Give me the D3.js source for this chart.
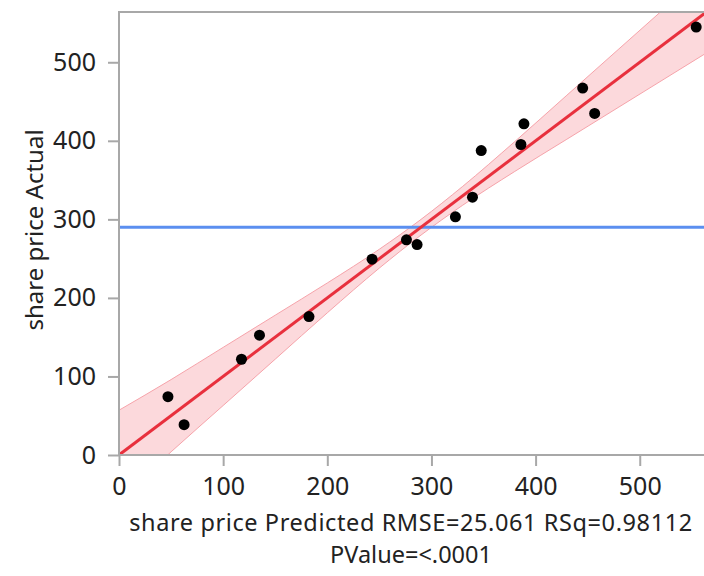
<!DOCTYPE html>
<html>
<head>
<meta charset="utf-8">
<script src="https://cdn.jsdelivr.net/npm/d3@7"></script>
<style>
  html, body { margin: 0; padding: 0; background: #fff; }
  svg { display: block; }
  text { font-family: "Noto Sans", "Open Sans", sans-serif; fill: #222; }
</style>
</head>
<body>
<svg id="chart" width="704" height="576"></svg>
<script>
// ---- data ----
const predicted = [47, 62.5, 117.6, 134.9, 182.4, 243, 276, 286.2, 323, 339.4, 347.8, 385.9, 388.8, 445.2, 456.7, 554.2];
const actual    = [74.3, 38.6, 121.9, 152.5, 176.2, 249.3, 273.9, 267.9, 303.2, 328.3, 387.6, 395.3, 421.7, 467.1, 434.8, 544.8];
const fitX = [0, 600];
const fitY = [0, 600];
const bandX     = [0, 50, 100, 150, 200, 250, 290, 330, 380, 430, 480, 530, 580];
const bandUpper = [57, 96, 137, 178, 219, 262, 300, 342, 399, 458, 517, 576, 635];
const bandLower = [-57, 4, 63, 122, 181, 238, 280, 318, 361, 402, 443, 484, 525];
const xTicks = [0, 100, 200, 300, 400, 500];
const yTicks = [0, 100, 200, 300, 400, 500];
const xTitle1 = "share price Predicted RMSE=25.061 RSq=0.98112";
const xTitle2 = "PValue=<.0001";
const yTitle = "share price Actual";

// ---- layout ----
const L = 119, T = 12, B = 455, R = 706.4;
const svg = d3.select("#chart");
const x = d3.scaleLinear().domain([0, 564]).range([L, R]);
const y = d3.scaleLinear().domain([0, 564]).range([B, T]);

svg.append("defs").append("clipPath").attr("id", "plot")
  .append("rect").attr("x", L).attr("y", T).attr("width", R - L).attr("height", B - T);

const g = svg.append("g").attr("clip-path", "url(#plot)");

const band = bandX.map((v, i) => ({x: v, lo: bandLower[i], hi: bandUpper[i]}));
g.append("path").datum(band)
  .attr("fill", "#fcd9dc")
  .attr("d", d3.area().x(d => x(d.x)).y0(d => y(d.lo)).y1(d => y(d.hi)).curve(d3.curveMonotoneX));
["hi", "lo"].forEach(k => {
  g.append("path").datum(band)
    .attr("fill", "none").attr("stroke", "#f6a3aa").attr("stroke-width", 1)
    .attr("d", d3.line().x(d => x(d.x)).y(d => y(d[k])).curve(d3.curveMonotoneX));
});

// mean line
const meanActual = d3.mean(actual);
g.append("line")
  .attr("x1", L).attr("x2", R).attr("y1", y(meanActual)).attr("y2", y(meanActual))
  .attr("stroke", "#5b8ff0").attr("stroke-width", 3);

// fit line
g.append("path").datum(fitX.map((v, i) => [v, fitY[i]]))
  .attr("fill", "none").attr("stroke", "#e8303d").attr("stroke-width", 3)
  .attr("d", d3.line().x(d => x(d[0])).y(d => y(d[1])));

// points
g.selectAll("circle").data(predicted.map((p, i) => [p, actual[i]]))
  .join("circle")
  .attr("cx", d => x(d[0])).attr("cy", d => y(d[1])).attr("r", 5.5)
  .attr("fill", "#000");

// frame
const frameColor = "#a8a8a8";
svg.append("path")
  .attr("d", `M${R},${T}H${L}V${B}H${R}`)
  .attr("fill", "none").attr("stroke", frameColor).attr("stroke-width", 2);

// axes
const xAxis = svg.append("g").attr("transform", `translate(0,${B})`)
  .call(d3.axisBottom(x).tickValues(xTicks).tickSize(11).tickPadding(11).tickFormat(d3.format("d")));
const yAxis = svg.append("g").attr("transform", `translate(${L},0)`)
  .call(d3.axisLeft(y).tickValues(yTicks).tickSize(11).tickPadding(12).tickFormat(d3.format("d")));
[xAxis, yAxis].forEach(a => {
  a.select(".domain").remove();
  a.selectAll(".tick line").attr("stroke", frameColor).attr("stroke-width", 2);
  a.selectAll(".tick text").attr("font-size", 25).attr("fill", "#222")
    .attr("font-family", '"Noto Sans", "Open Sans", sans-serif');
});

// titles
svg.append("text").attr("x", 411).attr("y", 531).attr("text-anchor", "middle")
  .attr("font-size", 23.5).attr("letter-spacing", 0.6).text(xTitle1);
svg.append("text").attr("x", 411).attr("y", 563).attr("text-anchor", "middle")
  .attr("font-size", 23.5).text(xTitle2);
svg.append("text").attr("transform", "translate(43,230) rotate(-90)").attr("text-anchor", "middle")
  .attr("font-size", 24).text(yTitle);
</script>
</body>
</html>
